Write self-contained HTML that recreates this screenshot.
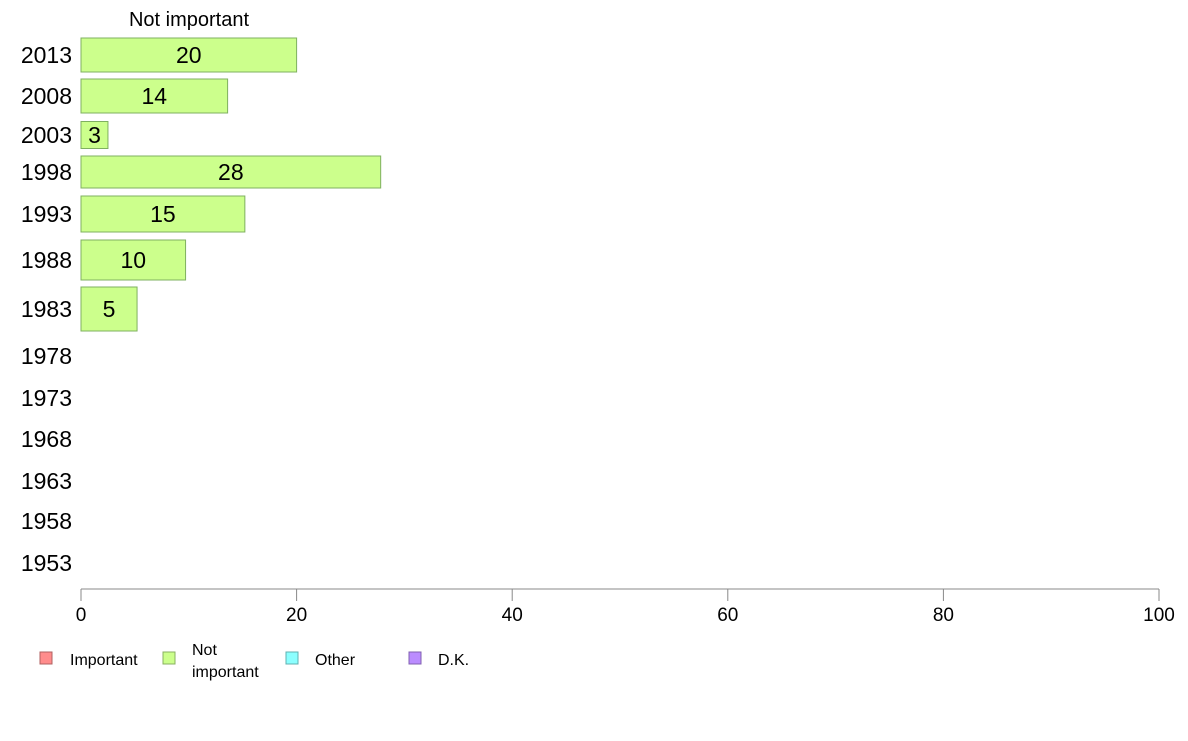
<!DOCTYPE html>
<html><head><meta charset="utf-8"><style>
body{margin:0;background:#fff;font-family:"Liberation Sans",sans-serif}
svg text{font-family:"Liberation Sans",sans-serif}
</style></head><body>
<svg width="1188" height="736">
<g id="plot"></g>
<g font-size="16" fill="#000">
<rect x="40" y="652" width="12" height="12" fill="#ff8c8c" stroke="#b06060"/>
<text x="70" y="665">Important</text>
<rect x="163" y="652" width="12" height="12" fill="#ccff8c" stroke="#88b060"/>
<text x="192" y="655">Not</text>
<text x="192" y="677">important</text>
<rect x="286" y="652" width="12" height="12" fill="#8cffff" stroke="#60b0b0"/>
<text x="315" y="665">Other</text>
<rect x="409" y="652" width="12" height="12" fill="#bb8cff" stroke="#8060b0"/>
<text x="438" y="665">D.K.</text>
</g>
</svg>
<script>
const years=["2013","2008","2003","1998","1993","1988","1983","1978","1973","1968","1963","1958","1953"];
const notImportant=[20,13.6,2.5,27.8,15.2,9.7,5.2,null,null,null,null,null,null];
const valueLabels=["20","14","3","28","15","10","5","","","","","",""];
const xTicks=[0,20,40,60,80,100];
// layout (row center y, bar height)
const rowY=[55,96,135,172,214,260,309,356,398,439,481,521,563];
const rowH=[34,34,27,32,36,40,44,0,0,0,0,0,0];
const NS="http://www.w3.org/2000/svg";
const g=document.getElementById('plot');
const x=v=>81+v*10.78;
function el(t,a){const e=document.createElementNS(NS,t);for(const k in a)e.setAttribute(k,a[k]);g.appendChild(e);return e;}
const ax=el('line',{x1:x(0),x2:x(100),y1:589,y2:589,stroke:'#888'});


xTicks.forEach(t=>{
 const l=el('line',{x1:x(t),x2:x(t),y1:589,y2:601,stroke:'#888'});
 
 
 const tx=el('text',{x:x(t),y:621,'text-anchor':'middle','font-size':19});
 tx.textContent=t;
 
 
});
years.forEach((y,i)=>{
 const tl=el('text',{x:72,y:rowY[i]+8,'text-anchor':'end','font-size':23});
 tl.textContent=y;
 
 
 const v=notImportant[i];
 if(v!=null){
  const r=el('rect',{x:x(0),y:rowY[i]-rowH[i]/2,width:x(v)-x(0),height:rowH[i],fill:'#ccff8c',stroke:'#7fb060'});
  
  
  const vt=el('text',{x:(x(0)+x(v))/2,y:rowY[i]+8,'text-anchor':'middle','font-size':23});
  vt.textContent=valueLabels[i];
  
  
 }
});
const h=el('text',{x:189,y:26,'text-anchor':'middle','font-size':20});
h.textContent='Not important';


</script>
</body></html>
